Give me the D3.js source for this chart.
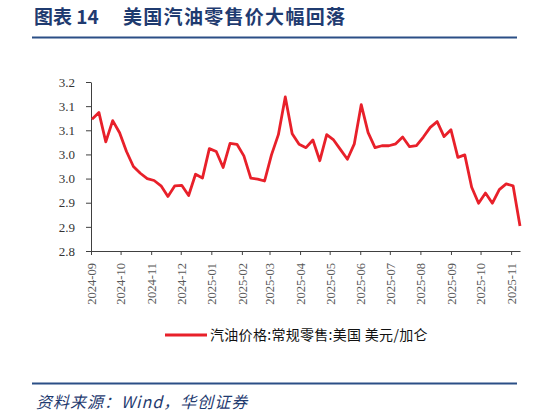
<!DOCTYPE html>
<html>
<head>
<meta charset="utf-8">
<script src="https://cdn.jsdelivr.net/npm/d3@7"></script>
<style>
  html, body { margin: 0; padding: 0; background: #fff; }
  svg text { font-family: "Liberation Serif", "Noto Sans CJK SC", serif; }
</style>
</head>
<body>
<div id="chart"></div>
<script>
// weekly retail prices, first week 2024-09-02
const startDate = "2024-09-02";
const prices = [
  3.073, 3.087, 3.026, 3.070, 3.045, 3.006, 2.975, 2.961, 2.950, 2.946,
  2.935, 2.913, 2.935, 2.936, 2.915, 2.959, 2.951, 3.012, 3.006, 2.973,
  3.023, 3.021, 2.997, 2.951, 2.949, 2.945, 2.999, 3.041, 3.119, 3.043,
  3.021, 3.014, 3.030, 2.987, 3.041, 3.030, 3.010, 2.990, 3.022, 3.103,
  3.045, 3.014, 3.018, 3.018, 3.022, 3.036, 3.016, 3.018, 3.036, 3.056,
  3.068, 3.037, 3.051, 2.994, 2.999, 2.932, 2.899, 2.920, 2.899, 2.927,
  2.939, 2.935, 2.852
];
const yTicks = [2.80, 2.85, 2.90, 2.95, 3.00, 3.05, 3.10, 3.15];
const monthTicks = ["2024-09", "2024-10", "2024-11", "2024-12", "2025-01", "2025-02", "2025-03",
  "2025-04", "2025-05", "2025-06", "2025-07", "2025-08", "2025-09", "2025-10", "2025-11"];
const seriesName = "汽油价格:常规零售:美国 美元/加仑";
const titleText = "图表 14";
const titleSub = "美国汽油零售价大幅回落";
const sourceText = "资料来源：Wind，华创证券";

const W = 552, H = 418;
const margin = { top: 82, right: 32, bottom: 167, left: 91 };

const parse = d3.timeParse("%Y-%m-%d");
const parseMonth = d3.timeParse("%Y-%m");
const t0 = parse(startDate);
const data = prices.map((v, i) => ({ date: d3.timeDay.offset(t0, i * 7), value: v }));

const svg = d3.select("#chart").append("svg")
  .attr("width", W).attr("height", H);

// header
svg.append("text")
  .attr("x", 34).attr("y", 24)
  .attr("fill", "#1f3b70")
  .style("font-family", "'Noto Sans CJK SC', sans-serif")
  .style("font-weight", "bold")
  .style("font-size", "19px")
  .text(titleText);
svg.append("text")
  .attr("x", 123).attr("y", 24)
  .attr("fill", "#1f3b70")
  .style("font-family", "'Noto Sans CJK SC', sans-serif")
  .style("font-weight", "bold")
  .style("font-size", "19px")
  .style("letter-spacing", "1.3px")
  .text(titleSub);
svg.append("line")
  .attr("x1", 32).attr("x2", 517).attr("y1", 37.5).attr("y2", 37.5)
  .attr("stroke", "#2b4f86").attr("stroke-width", 2);

const x = d3.scaleTime()
  .domain([parseMonth("2024-09"), data[data.length - 1].date])
  .range([margin.left, W - margin.right]);
const y = d3.scaleLinear()
  .domain([2.80, 3.15])
  .range([H - margin.bottom, margin.top]);

// y axis
const yAxis = svg.append("g")
  .attr("transform", `translate(${margin.left},0)`)
  .call(d3.axisLeft(y).tickValues(yTicks).tickSize(5).tickSizeOuter(0)
    .tickFormat(d => (Math.round(d * 10 + 1e-9) / 10).toFixed(1)));
yAxis.select(".domain").attr("stroke", "#404040");
yAxis.selectAll(".tick line").attr("stroke", "#404040");
yAxis.selectAll(".tick text")
  .attr("x", -16)
  .attr("fill", "#333")
  .style("font-size", "13px");

// x axis
const xAxis = svg.append("g")
  .attr("transform", `translate(0,${H - margin.bottom})`)
  .call(d3.axisBottom(x).tickValues(monthTicks.map(parseMonth)).tickSize(4).tickSizeOuter(0)
    .tickFormat(d3.timeFormat("%Y-%m")));
xAxis.select(".domain").attr("stroke", "#404040");
xAxis.selectAll(".tick line").attr("stroke", "#404040");
xAxis.selectAll(".tick text")
  .attr("transform", "rotate(-90)")
  .attr("x", -12).attr("y", 0).attr("dy", "0.35em")
  .attr("text-anchor", "end")
  .attr("fill", "#595959")
  .style("font-size", "12.5px");

// series
const line = d3.line()
  .x(d => x(d.date))
  .y(d => y(d.value));
svg.append("path")
  .datum(data)
  .attr("fill", "none")
  .attr("stroke", "#e8202a")
  .attr("stroke-width", 2.8)
  .attr("stroke-linejoin", "round")
  .attr("d", line);

// legend
const legend = svg.append("g").attr("transform", "translate(165,335)");
legend.append("line")
  .attr("x1", 0).attr("x2", 42).attr("y1", 0).attr("y2", 0)
  .attr("stroke", "#e8202a").attr("stroke-width", 2.8);
legend.append("text")
  .attr("x", 45).attr("y", 5)
  .attr("fill", "#111")
  .style("font-family", "'Noto Sans CJK SC', sans-serif")
  .style("font-size", "14px")
  .style("letter-spacing", "0.3px")
  .text(seriesName);

// footer
svg.append("line")
  .attr("x1", 32).attr("x2", 517).attr("y1", 383.5).attr("y2", 383.5)
  .attr("stroke", "#2b4f86").attr("stroke-width", 2);
svg.append("text")
  .attr("x", 36).attr("y", 408)
  .attr("fill", "#1f3b70")
  .style("font-family", "'Noto Sans CJK SC', sans-serif")
  .style("font-style", "italic")
  .style("font-size", "16px")
  .style("letter-spacing", "1px")
  .text(sourceText);
</script>
</body>
</html>
